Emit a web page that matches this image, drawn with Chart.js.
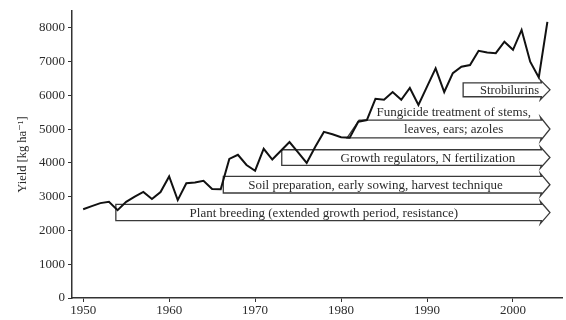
<!DOCTYPE html>
<html>
<head>
<meta charset="utf-8">
<script src="https://cdn.jsdelivr.net/npm/chart.js@4/dist/chart.umd.min.js"></script>
<style>
  html, body { margin: 0; padding: 0; background: #fff; }
  #wrap { width: 566px; height: 320px; }
</style>
</head>
<body>
<div id="wrap"><canvas id="c"></canvas></div>
<script>
// Annual grain yield, kg per hectare
const years = [
  1950, 1951, 1952, 1953, 1954, 1955, 1956, 1957, 1958, 1959,
  1960, 1961, 1962, 1963, 1964, 1965, 1966, 1967, 1968, 1969,
  1970, 1971, 1972, 1973, 1974, 1975, 1976, 1977, 1978, 1979,
  1980, 1981, 1982, 1983, 1984, 1985, 1986, 1987, 1988, 1989,
  1990, 1991, 1992, 1993, 1994, 1995, 1996, 1997, 1998, 1999,
  2000, 2001, 2002, 2003, 2004
];
const yieldKgHa = [
  2630, 2720, 2810, 2850, 2600, 2850, 3000, 3140, 2930, 3140,
  3600, 2900, 3400, 3420, 3470, 3230, 3220, 4120, 4240, 3940,
  3770, 4420, 4100, 4360, 4620, 4310, 4000, 4480, 4920, 4850,
  4760, 4750, 5220, 5270, 5900, 5870, 6100, 5870, 6220, 5720,
  6260, 6800, 6100, 6660, 6850, 6900, 7320, 7270, 7250, 7590,
  7350, 7940, 7000, 6530, 8180
];

// Axis ticks
const xTicks = [1950, 1960, 1970, 1980, 1990, 2000];
const yTicks = [0, 1000, 2000, 3000, 4000, 5000, 6000, 7000, 8000];

// Agronomic measures introduced over time (bottom to top)
const measureLabels = [
  ["Plant breeding (extended growth period, resistance)"],
  ["Soil preparation, early sowing, harvest technique"],
  ["Growth regulators, N fertilization"],
  ["Fungicide treatment of stems,", "leaves, ears; azoles"],
  ["Strobilurins"]
];
const measureStart    = [1953.8, 1966.3, 1973.1, 1980.7, 1994.2]; // year the band starts (lower edge)
const measureStartTop = [1953.8, 1966.3, 1973.1, 1982.1, 1994.2]; // year the band starts (upper edge)
const measureTop      = [2770, 3600, 4390, 5270, 6370];
const measureBottom   = [2290, 3110, 3930, 4740, 5960];
const measureLabelAt  = [1978.0, 1984.0, 1990.1, 1993.1, 1999.6];
const arrowBodyEnd = 2003.3;
const arrowTipAt   = 2004.3;

const serif = "'Liberation Serif', 'DejaVu Serif', serif";
const ink = '#2b2b2b';

const measureArrows = {
  id: 'measureArrows',
  beforeDatasetsDraw(chart) {
    const { ctx, scales: { x, y } } = chart;
    ctx.save();
    ctx.strokeStyle = '#3a3a3a';
    ctx.lineWidth = 1.3;
    ctx.lineJoin = 'miter';
    const xe = x.getPixelForValue(arrowBodyEnd);
    const xt = x.getPixelForValue(arrowTipAt);
    for (let i = 0; i < measureLabels.length; i++) {
      const x0 = x.getPixelForValue(measureStart[i]);
      const x0t = x.getPixelForValue(measureStartTop[i]);
      const yt = y.getPixelForValue(measureTop[i]);
      const yb = y.getPixelForValue(measureBottom[i]);
      const ym = (yt + yb) / 2;
      ctx.beginPath();
      ctx.moveTo(x0, yb);
      ctx.lineTo(x0t, yt);
      ctx.lineTo(xe, yt);
      ctx.lineTo(xe - 1, yt - 3);
      ctx.lineTo(xt, ym);
      ctx.lineTo(xe - 1, yb + 3);
      ctx.lineTo(xe, yb);
      ctx.closePath();
      ctx.stroke();

      ctx.fillStyle = ink;
      ctx.font = (i === measureLabels.length - 1 ? '12.5px ' : '13px ') + serif;
      ctx.textAlign = 'center';
      ctx.textBaseline = 'middle';
      const lines = measureLabels[i];
      const cx = x.getPixelForValue(measureLabelAt[i]);
      for (let k = 0; k < lines.length; k++) {
        const ly = ym + 1 - (lines.length - 1 - k) * 17;
        ctx.fillText(lines[k], cx, ly);
      }
    }
    ctx.restore();
  }
};

new Chart(document.getElementById('c'), {
  type: 'line',
  data: {
    datasets: [{
      data: years.map((yr, i) => ({ x: yr, y: yieldKgHa[i] })),
      borderColor: '#111',
      borderWidth: 2,
      pointRadius: 0,
      tension: 0,
      fill: false
    }]
  },
  options: {
    responsive: true,
    maintainAspectRatio: false,
    animation: false,
    events: [],
    layout: { padding: { top: 11, right: 4, left: 0, bottom: 0 } },
    plugins: { legend: { display: false }, tooltip: { enabled: false } },
    scales: {
      x: {
        type: 'linear',
        min: 1948.7,
        max: 2005.7,
        afterBuildTicks: s => { s.ticks = xTicks.map(v => ({ value: v })); },
        afterFit: s => { s.height = 22; },
        border: { display: true, color: '#333', width: 1.5 },
        grid: { drawOnChartArea: false, drawTicks: true, tickLength: 4, color: '#333', lineWidth: 1 },
        ticks: { color: ink, font: { family: serif, size: 13 }, padding: 1, maxRotation: 0, autoSkip: false, callback: v => String(v) }
      },
      y: {
        min: 0,
        max: 8500,
        afterBuildTicks: s => { s.ticks = yTicks.map(v => ({ value: v })); },
        afterFit: s => { s.width = 72; },
        border: { display: true, color: '#333', width: 1.5 },
        grid: { drawOnChartArea: false, drawTicks: true, tickLength: 4, color: '#333', lineWidth: 1 },
        ticks: { color: ink, font: { family: serif, size: 13 }, padding: 3, autoSkip: false, callback: v => String(v) },
        title: { display: true, text: 'Yield [kg ha\u207B\u00B9]', color: ink, font: { family: serif, size: 12.5 }, padding: { top: 15, bottom: 0 } }
      }
    }
  },
  plugins: [measureArrows]
});
</script>
</body>
</html>
